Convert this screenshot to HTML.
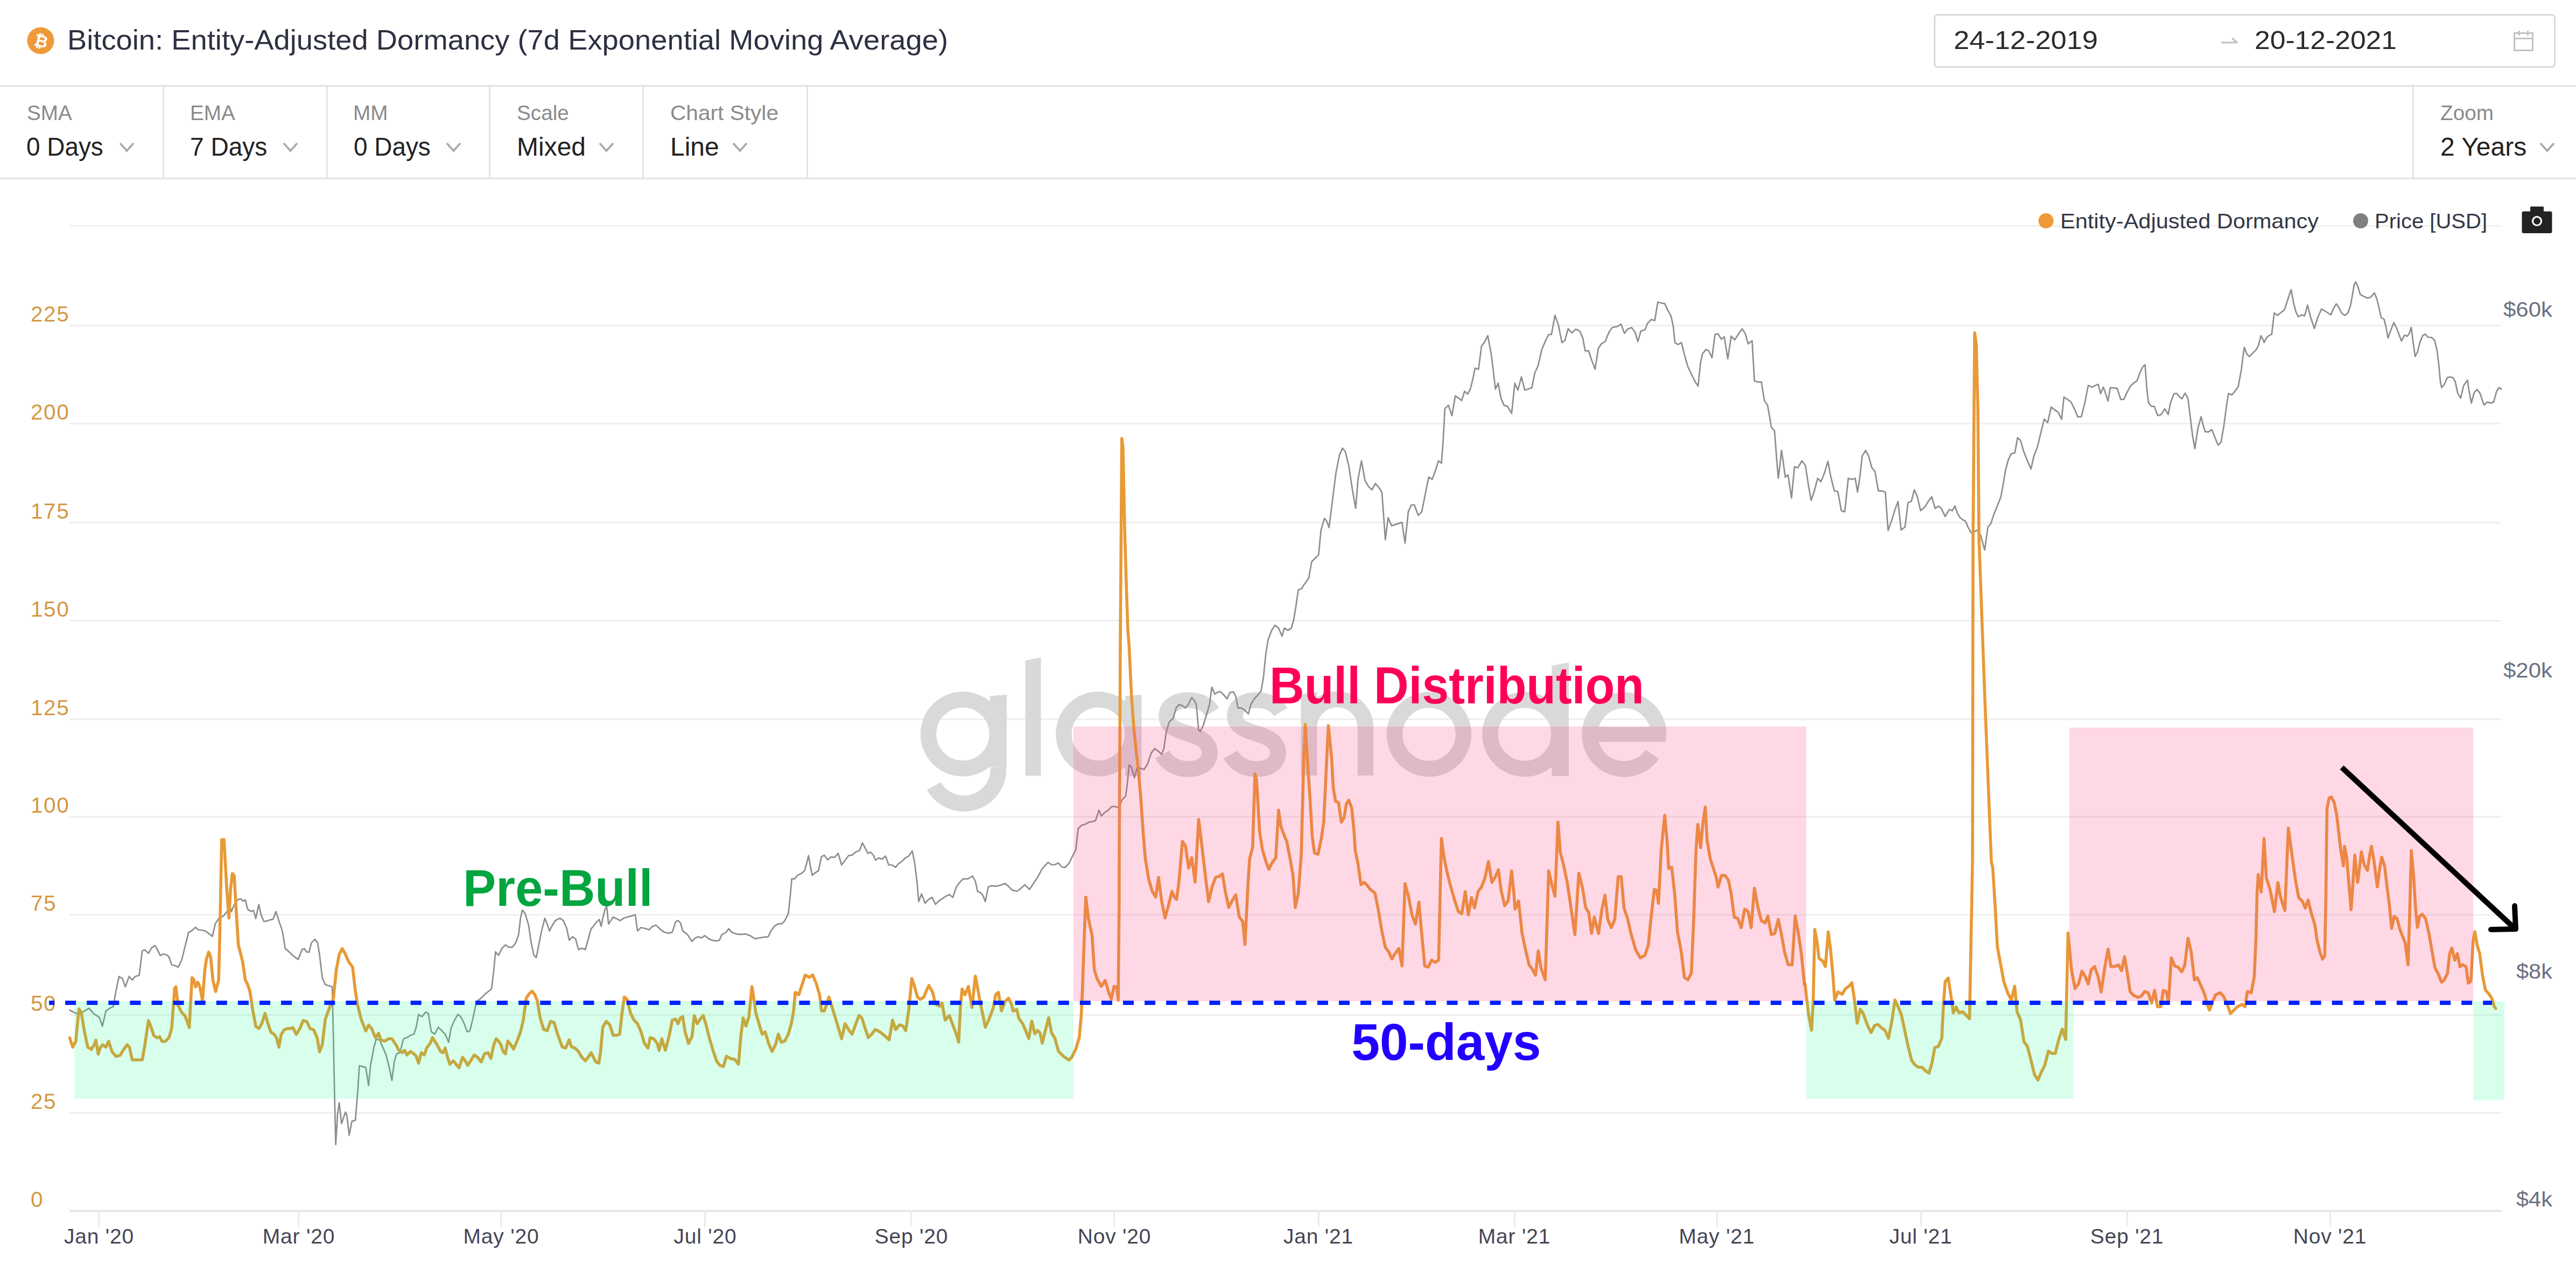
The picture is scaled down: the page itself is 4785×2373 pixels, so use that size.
<!DOCTYPE html>
<html><head><meta charset="utf-8"><title>Bitcoin: Entity-Adjusted Dormancy</title>
<style>
html,body{margin:0;padding:0;background:#fff;width:4785px;height:2373px;overflow:hidden}
svg{display:block;font-family:"Liberation Sans",sans-serif}
</style></head><body>
<svg width="4785" height="2373" viewBox="0 0 4785 2373">
<rect width="4785" height="2373" fill="#fff"/>
<!-- HEADER -->
<circle cx="75.5" cy="75.5" r="25" fill="#ef9a38"/>
<text x="76.5" y="87" font-size="31" font-weight="700" fill="#fff" text-anchor="middle" transform="rotate(14 75.5 75.5)">&#x20BF;</text>
<text id="title" x="125" y="91.5" font-size="51.5" fill="#2d3142" textLength="1636" lengthAdjust="spacingAndGlyphs">Bitcoin: Entity-Adjusted Dormancy (7d Exponential Moving Average)</text>
<rect x="3593.5" y="27.5" width="1152" height="97" rx="6" fill="#fff" stroke="#d9d9d9" stroke-width="3"/>
<text x="3629" y="91.3" font-size="49" fill="#2b2b2b" textLength="268" lengthAdjust="spacingAndGlyphs">24-12-2019</text>
<path d="M4126 79 H4156 M4146 71 L4156 79" stroke="#bfbfbf" stroke-width="3" fill="none"/>
<text x="4188" y="91.3" font-size="49" fill="#2b2b2b" textLength="264" lengthAdjust="spacingAndGlyphs">20-12-2021</text>
<g stroke="#c2c2c2" stroke-width="3" fill="none"><rect x="4670.5" y="61.5" width="34" height="32"/><path d="M4670.5 71.5 H4704.5 M4679.5 57 V66 M4695.5 57 V66"/></g>
<rect x="0" y="158" width="4785" height="3" fill="#e3e3e3"/>
<!-- toolbar -->
<g fill="#e3e3e3">
<rect x="302" y="158" width="3" height="175"/>
<rect x="606" y="158" width="3" height="175"/>
<rect x="908" y="158" width="3" height="175"/>
<rect x="1193" y="158" width="3" height="175"/>
<rect x="1498" y="158" width="3" height="175"/>
<rect x="4481" y="158" width="3" height="175"/>
<rect x="0" y="330" width="4785" height="3"/>
</g>
<g font-size="38.7" fill="#8a8a8a">
<text x="50" y="223">SMA</text>
<text x="353" y="223">EMA</text>
<text x="656" y="223">MM</text>
<text x="960" y="223">Scale</text>
<text x="1245" y="223" textLength="201" lengthAdjust="spacingAndGlyphs">Chart Style</text>
<text x="4533" y="223">Zoom</text>
</g>
<g font-size="48" fill="#222">
<text x="49" y="289" textLength="142.8" lengthAdjust="spacingAndGlyphs">0 Days</text>
<text x="353" y="289" textLength="143.3" lengthAdjust="spacingAndGlyphs">7 Days</text>
<text x="657" y="289" textLength="142.8" lengthAdjust="spacingAndGlyphs">0 Days</text>
<text x="960" y="289">Mixed</text>
<text x="1245" y="289">Line</text>
<text x="4533" y="289">2 Years</text>
</g>
<g stroke="#a8a8a8" stroke-width="3.5" fill="none">
<path d="M223 266 L235.5 280 L248 266"/>
<path d="M527 266 L539.5 280 L552 266"/>
<path d="M830 266 L842.5 280 L855 266"/>
<path d="M1114 266 L1126.5 280 L1139 266"/>
<path d="M1362 266 L1374.5 280 L1387 266"/>
<path d="M4719 266 L4731.5 280 L4744 266"/>
</g>
<!-- GRID -->
<g fill="#efefef">
<rect x="129" y="418" width="4517" height="3"/>
<rect x="129" y="603" width="4517" height="3"/>
<rect x="129" y="785" width="4517" height="3"/>
<rect x="129" y="969" width="4517" height="3"/>
<rect x="129" y="1151" width="4517" height="3"/>
<rect x="129" y="1334" width="4517" height="3"/>
<rect x="129" y="1515" width="4517" height="3"/>
<rect x="129" y="1697" width="4517" height="3"/>
<rect x="129" y="1883" width="4517" height="3"/>
<rect x="129" y="2065" width="4517" height="3"/>
</g>
<rect x="129" y="2247" width="4517" height="3" fill="#e0e0e0"/>
<g fill="#ebebeb">
<rect x="182" y="2247" width="3" height="31"/>
<rect x="553" y="2247" width="3" height="31"/>
<rect x="929" y="2247" width="3" height="31"/>
<rect x="1308" y="2247" width="3" height="31"/>
<rect x="1691" y="2247" width="3" height="31"/>
<rect x="2068" y="2247" width="3" height="31"/>
<rect x="2448" y="2247" width="3" height="31"/>
<rect x="2812" y="2247" width="3" height="31"/>
<rect x="3188" y="2247" width="3" height="31"/>
<rect x="3567" y="2247" width="3" height="31"/>
<rect x="3950" y="2247" width="3" height="31"/>
<rect x="4327" y="2247" width="3" height="31"/>
</g>
<!-- LEGEND -->
<circle cx="3800.5" cy="410" r="14" fill="#ef9a38"/>
<text x="3827" y="423.5" font-size="39" fill="#333845" textLength="480" lengthAdjust="spacingAndGlyphs">Entity-Adjusted Dormancy</text>
<circle cx="4385" cy="410" r="14" fill="#808080"/>
<text x="4411" y="423.5" font-size="39" fill="#333845" textLength="209" lengthAdjust="spacingAndGlyphs">Price [USD]</text>
<g fill="#222">
<rect x="4684.5" y="392.5" width="56" height="40.5" rx="3"/>
<rect x="4700" y="383.5" width="25" height="12" rx="1.5"/>
</g>
<circle cx="4712.5" cy="410.5" r="8" fill="none" stroke="#fff" stroke-width="3.2"/>
<!-- left axis labels -->
<g font-size="40.5" fill="#d39845" letter-spacing="1.6">
<text x="57" y="597">225</text>
<text x="57" y="779">200</text>
<text x="57" y="963">175</text>
<text x="57" y="1145">150</text>
<text x="57" y="1328">125</text>
<text x="57" y="1509">100</text>
<text x="57" y="1691">75</text>
<text x="57" y="1877">50</text>
<text x="57" y="2059">25</text>
<text x="57" y="2241">0</text>
</g>
<!-- right axis labels -->
<g font-size="39" fill="#6a6f80" text-anchor="end">
<text x="4741" y="588" textLength="91" lengthAdjust="spacingAndGlyphs">$60k</text>
<text x="4741" y="1258" textLength="91" lengthAdjust="spacingAndGlyphs">$20k</text>
<text x="4741" y="1817" textLength="67" lengthAdjust="spacingAndGlyphs">$8k</text>
<text x="4741" y="2240" textLength="67" lengthAdjust="spacingAndGlyphs">$4k</text>
</g>
<!-- x labels -->
<g font-size="39" fill="#444654" text-anchor="middle" letter-spacing="0.8">
<text x="184" y="2309">Jan '20</text>
<text x="555" y="2309">Mar '20</text>
<text x="931" y="2309">May '20</text>
<text x="1310" y="2309">Jul '20</text>
<text x="1693" y="2309">Sep '20</text>
<text x="2070" y="2309">Nov '20</text>
<text x="2449" y="2309">Jan '21</text>
<text x="2813" y="2309">Mar '21</text>
<text x="3189" y="2309">May '21</text>
<text x="3568" y="2309">Jul '21</text>
<text x="3951" y="2309">Sep '21</text>
<text x="4328" y="2309">Nov '21</text>
</g>
<!-- WATERMARK -->
<g id="wm"><g fill="none" stroke="#d9d9d9" stroke-width="29.5">
<circle cx="1788.5" cy="1363" r="64"/>
<path d="M1854.5 1424.5 A64 64 0 0 1 1734.8 1459.4"/>
<circle cx="2040" cy="1363" r="64"/>
<path d="M2252 1322 C2243 1307 2226 1300 2207 1300 C2185 1300 2167 1311 2167 1329 C2167 1350 2187 1356 2207 1362 C2229 1369 2247 1377 2247 1398 C2247 1418 2229 1428 2207 1428 C2186 1428 2168 1418 2159 1401"/>
<path d="M2252 1322 C2243 1307 2226 1300 2207 1300 C2185 1300 2167 1311 2167 1329 C2167 1350 2187 1356 2207 1362 C2229 1369 2247 1377 2247 1398 C2247 1418 2229 1428 2207 1428 C2186 1428 2168 1418 2159 1401" transform="translate(127 0)"/>
<path d="M2431.5 1440 V1351 A52.5 52.5 0 0 1 2536.5 1351 V1440"/>
<circle cx="2654.5" cy="1363.5" r="64"/>
<circle cx="2832" cy="1363.5" r="64"/>
<path d="M3081 1364 A64 64 0 1 0 3069.4 1400.7"/>
</g><g fill="#d9d9d9">
<polygon points="1839,1292.6 1870,1289.8 1870,1424.5 1839,1424.5"/>
<polygon points="1904.5,1226.4 1933.5,1220.6 1933.5,1440.5 1904.5,1440.5"/>
<polygon points="2090,1292.6 2120.5,1289.8 2120.5,1441 2090,1441"/>
<polygon points="2416.5,1289 2446.5,1285 2446.5,1440 2416.5,1440"/>
<polygon points="2882.5,1236 2914,1230 2914,1441 2882.5,1441"/>
<rect x="2962" y="1349.5" width="132.5" height="28"/>
</g></g>
<!-- LINES -->
<g id="lines" fill="none" stroke-linejoin="round" stroke-linecap="round"><path d="M129.5 1875.5 L137.2 1879.8 L146.7 1883.2 L156.6 1877.6 L165.2 1872.0 L173.8 1881.9 L184.6 1889.2 L190.2 1905.6 L196.6 1877.6 L203.9 1872.0 L210.4 1869.0 L215.6 1838.9 L221.1 1813.1 L227.6 1817.4 L232.8 1832.4 L239.7 1813.1 L245.7 1819.5 L251.3 1813.1 L258.6 1810.9 L264.2 1765.7 L268.5 1763.6 L275.8 1770.0 L281.4 1760.1 L287.9 1755.8 L292.2 1762.7 L297.8 1774.3 L302.9 1771.3 L309.4 1773.0 L313.7 1776.5 L318.9 1791.5 L324.5 1792.8 L330.9 1795.8 L337.4 1782.9 L343.8 1757.1 L350.3 1731.3 L355.9 1728.3 L363.2 1721.8 L367.5 1726.1 L373.9 1727.0 L380.4 1728.3 L386.9 1732.6 L394.6 1738.6 L399.8 1715.4 L406.2 1705.5 L414.8 1701.1 L423.4 1690.4 L426.5 1679.6 L429.9 1692.5 L434.2 1681.8 L440.7 1671.0 L447.1 1668.9 L451.4 1673.2 L455.7 1671.0 L460.0 1688.2 L466.5 1692.5 L470.8 1690.4 L475.1 1705.5 L480.7 1679.6 L485.0 1699.0 L490.2 1711.0 L496.6 1709.8 L503.1 1707.6 L507.4 1706.7 L512.5 1692.5 L518.1 1709.8 L524.6 1729.1 L529.8 1761.4 L537.5 1767.9 L544.0 1774.3 L553.9 1781.6 L561.2 1762.7 L565.5 1761.4 L569.8 1767.9 L574.1 1767.9 L578.4 1750.6 L584.9 1744.2 L590.0 1750.6 L593.5 1772.2 L598.6 1815.2 L604.2 1828.1 L610.7 1830.3 L617.1 1832.4 L619.3 1927.1 L621.4 2030.4 L623.6 2125.1 L627.0 2069.2 L630.1 2047.6 L634.4 2086.4 L641.7 2064.9 L644.3 2071.3 L648.6 2107.9 L653.7 2082.1 L660.2 2079.9 L664.5 2026.1 L667.5 1978.8 L675.2 1980.9 L679.5 1982.2 L684.7 2015.4 L688.2 1978.8 L694.6 1944.3 L698.9 1929.3 L705.4 1931.4 L717.2 1958.9 L723.7 1984.7 L728.0 2006.2 L732.3 1971.8 L736.6 1956.7 L743.0 1954.6 L749.5 1928.8 L756.0 1926.6 L762.4 1922.3 L768.9 1920.2 L773.2 1907.3 L777.5 1883.6 L783.9 1887.9 L790.4 1879.3 L795.6 1881.4 L801.1 1915.9 L807.6 1920.2 L814.1 1907.3 L820.5 1913.7 L827.0 1920.2 L833.4 1935.2 L837.7 1909.4 L844.2 1894.3 L850.6 1883.6 L855.8 1887.9 L861.4 1898.6 L867.9 1915.9 L873.0 1913.7 L878.6 1890.0 L885.1 1859.9 L893.7 1853.4 L902.3 1844.8 L913.1 1836.2 L917.4 1799.6 L920.4 1767.4 L926.0 1773.8 L932.4 1760.9 L938.9 1754.5 L945.3 1758.8 L951.8 1758.8 L958.3 1750.1 L963.4 1735.1 L966.9 1705.0 L970.3 1689.9 L975.5 1696.3 L981.9 1717.9 L986.2 1748.0 L991.8 1773.8 L996.1 1778.1 L1000.4 1756.6 L1006.5 1726.5 L1012.1 1705.0 L1016.4 1715.7 L1020.7 1728.6 L1025.0 1720.0 L1031.4 1709.3 L1040.0 1705.0 L1046.5 1709.3 L1052.9 1724.3 L1057.3 1745.8 L1063.7 1739.4 L1069.3 1743.7 L1074.5 1763.1 L1080.9 1760.9 L1087.4 1763.1 L1093.8 1739.4 L1098.1 1724.3 L1102.4 1720.0 L1106.7 1713.6 L1113.2 1707.1 L1116.6 1720.0 L1119.7 1705.0 L1124.0 1687.7 L1127.0 1683.4 L1130.4 1715.7 L1134.7 1709.3 L1139.0 1702.8 L1143.3 1705.0 L1147.6 1707.1 L1151.9 1709.3 L1158.4 1705.0 L1164.9 1702.8 L1173.5 1700.6 L1179.9 1698.5 L1184.2 1728.6 L1190.7 1722.2 L1199.3 1724.3 L1205.7 1726.5 L1212.2 1720.0 L1218.7 1717.9 L1225.1 1724.3 L1233.7 1730.8 L1242.3 1732.9 L1248.8 1730.8 L1255.2 1711.4 L1259.5 1709.3 L1263.9 1713.6 L1268.2 1728.6 L1276.8 1735.1 L1285.4 1748.0 L1291.8 1741.5 L1296.5 1739.4 L1302.9 1741.5 L1309.4 1737.2 L1315.8 1742.8 L1322.3 1745.8 L1330.9 1747.1 L1336.5 1745.8 L1340.8 1735.1 L1348.1 1731.6 L1353.7 1724.3 L1358.9 1730.8 L1367.5 1734.2 L1376.1 1735.1 L1384.7 1734.2 L1393.3 1737.2 L1401.9 1742.8 L1410.5 1741.5 L1419.1 1740.2 L1426.9 1739.4 L1432.0 1728.6 L1438.5 1720.0 L1445.0 1715.7 L1452.7 1714.9 L1457.9 1709.3 L1464.3 1696.3 L1467.3 1670.5 L1470.8 1631.8 L1475.9 1631.8 L1481.5 1625.3 L1488.0 1622.3 L1494.5 1616.7 L1498.8 1601.7 L1501.8 1588.7 L1505.2 1608.1 L1508.7 1625.3 L1513.8 1621.0 L1520.3 1616.7 L1525.9 1590.9 L1531.0 1587.9 L1537.5 1596.5 L1543.9 1590.9 L1550.4 1592.2 L1556.9 1584.4 L1563.3 1606.0 L1569.8 1597.3 L1576.2 1588.7 L1582.7 1587.9 L1589.1 1582.3 L1596.5 1579.3 L1602.1 1565.1 L1606.4 1573.7 L1612.0 1584.4 L1617.1 1582.3 L1622.3 1587.9 L1626.6 1597.3 L1632.2 1593.0 L1638.6 1595.2 L1645.1 1589.6 L1650.7 1606.0 L1656.7 1606.0 L1663.6 1610.3 L1668.8 1603.8 L1675.2 1599.5 L1681.7 1593.0 L1688.1 1589.6 L1694.6 1580.1 L1698.9 1601.7 L1703.2 1636.1 L1706.6 1674.0 L1711.8 1659.8 L1718.3 1677.0 L1724.7 1670.5 L1731.2 1666.2 L1737.6 1679.1 L1744.1 1672.7 L1750.6 1668.4 L1757.0 1664.1 L1763.5 1661.0 L1769.9 1666.2 L1776.4 1646.8 L1782.8 1638.2 L1789.3 1631.8 L1797.9 1631.8 L1806.5 1626.6 L1811.7 1636.1 L1816.0 1655.5 L1821.6 1657.6 L1825.9 1662.8 L1830.2 1674.0 L1835.8 1646.8 L1841.8 1644.7 L1849.5 1645.6 L1858.2 1643.8 L1866.8 1640.4 L1873.2 1645.6 L1879.7 1652.4 L1888.6 1655.0 L1895.1 1650.6 L1903.7 1642.9 L1912.3 1651.5 L1918.7 1642.0 L1927.3 1629.1 L1936.0 1612.8 L1946.7 1601.1 L1953.2 1605.5 L1959.6 1605.5 L1966.1 1602.4 L1972.5 1609.8 L1978.1 1611.0 L1985.5 1603.3 L1991.9 1590.4 L1998.4 1577.5 L2002.7 1538.7 L2009.1 1532.3 L2016.9 1530.1 L2022.0 1526.7 L2028.5 1525.8 L2035.0 1523.7 L2041.4 1504.3 L2045.7 1515.1 L2052.2 1508.6 L2058.6 1504.3 L2065.1 1497.6 L2071.5 1497.6 L2078.0 1499.8 L2084.5 1484.7 L2090.9 1478.3 L2093.9 1456.7 L2097.4 1420.2 L2101.7 1424.5 L2107.3 1443.8 L2112.4 1424.5 L2118.9 1426.6 L2125.3 1428.8 L2131.8 1418.0 L2138.3 1398.6 L2144.7 1390.0 L2151.2 1394.3 L2157.6 1400.8 L2161.9 1390.0 L2166.2 1359.9 L2171.8 1340.5 L2179.1 1334.1 L2184.7 1314.7 L2189.9 1308.3 L2196.4 1310.4 L2202.0 1314.7 L2207.1 1308.3 L2213.6 1295.3 L2217.9 1299.6 L2222.2 1308.3 L2226.5 1355.6 L2229.5 1357.8 L2235.1 1347.0 L2241.6 1325.5 L2246.7 1308.3 L2251.0 1276.0 L2256.6 1288.9 L2263.1 1284.6 L2267.4 1284.6 L2273.8 1291.0 L2279.4 1297.5 L2284.6 1285.9 L2291.1 1284.6 L2295.4 1293.2 L2299.7 1314.7 L2306.1 1314.7 L2312.6 1319.0 L2319.0 1325.5 L2323.3 1308.3 L2329.8 1297.5 L2336.2 1291.0 L2342.7 1282.4 L2347.0 1256.6 L2351.3 1213.6 L2355.6 1187.7 L2362.1 1170.5 L2368.5 1161.0 L2375.0 1166.2 L2381.4 1181.3 L2385.7 1166.2 L2392.2 1170.5 L2398.7 1166.2 L2403.0 1151.1 L2407.3 1125.3 L2411.6 1095.2 L2418.0 1093.0 L2421.5 1086.6 L2426.6 1080.1 L2431.8 1071.5 L2432.2 1066.6 L2436.5 1043.0 L2442.9 1036.5 L2449.4 1030.1 L2453.7 984.9 L2460.1 962.5 L2464.4 967.6 L2468.7 979.7 L2473.0 946.1 L2477.3 911.7 L2481.7 877.3 L2488.1 845.0 L2493.7 832.1 L2498.9 838.5 L2505.3 864.3 L2511.8 907.4 L2518.2 944.0 L2522.5 890.2 L2529.0 855.7 L2535.5 892.3 L2541.9 903.1 L2548.4 909.5 L2554.8 897.9 L2561.3 905.2 L2566.9 913.8 L2569.9 954.7 L2573.3 1002.1 L2578.5 961.2 L2585.0 976.2 L2591.4 974.1 L2597.9 971.9 L2604.3 969.8 L2609.9 1008.5 L2615.9 950.4 L2621.5 937.5 L2627.1 937.5 L2634.5 956.9 L2640.9 950.4 L2647.4 918.1 L2653.8 885.9 L2660.3 890.2 L2666.7 872.9 L2671.9 855.7 L2677.5 860.0 L2680.5 821.3 L2683.9 758.9 L2690.4 752.4 L2696.9 771.8 L2703.3 735.2 L2709.8 739.5 L2714.9 743.8 L2720.5 726.6 L2726.1 731.8 L2731.3 722.3 L2736.5 700.8 L2739.9 683.6 L2746.4 685.7 L2752.0 642.7 L2757.1 636.2 L2763.6 623.3 L2770.0 657.7 L2774.3 692.2 L2777.8 722.3 L2782.9 711.5 L2788.1 739.5 L2793.7 752.4 L2800.2 754.6 L2807.9 767.5 L2813.9 711.5 L2819.5 724.5 L2826.0 699.9 L2832.4 724.5 L2838.9 722.3 L2845.4 720.1 L2851.0 692.2 L2857.0 679.3 L2863.9 649.1 L2871.2 631.9 L2876.8 621.1 L2881.9 621.1 L2888.4 585.4 L2894.9 603.9 L2901.3 636.2 L2906.9 631.9 L2912.9 610.4 L2919.8 618.1 L2927.1 611.2 L2934.5 614.7 L2940.1 627.6 L2944.4 651.3 L2950.8 651.3 L2957.3 670.6 L2962.9 685.7 L2968.9 647.0 L2974.5 638.4 L2981.8 634.1 L2988.7 616.8 L2994.7 608.2 L3004.6 606.1 L3011.1 601.8 L3017.5 619.0 L3024.0 610.4 L3025.2 610.4 L3030.8 608.2 L3037.2 616.8 L3042.4 634.1 L3048.0 614.7 L3055.3 612.5 L3060.9 599.6 L3067.3 593.2 L3073.8 595.3 L3079.4 560.9 L3084.6 562.2 L3092.3 563.9 L3097.5 575.1 L3103.9 586.7 L3108.2 606.1 L3111.2 636.2 L3116.8 639.7 L3123.3 636.2 L3129.8 662.0 L3135.4 681.4 L3142.7 696.5 L3149.1 709.4 L3154.3 717.1 L3158.6 675.0 L3162.0 657.7 L3168.5 649.1 L3174.1 651.3 L3180.1 664.2 L3185.7 621.1 L3191.3 619.9 L3197.3 629.8 L3202.9 625.5 L3209.4 666.3 L3215.8 624.2 L3222.3 631.0 L3228.8 621.1 L3236.1 610.4 L3241.7 619.0 L3247.3 638.4 L3254.6 632.8 L3258.9 707.2 L3265.3 709.4 L3271.8 709.4 L3277.4 743.8 L3283.4 752.4 L3290.3 793.3 L3296.3 799.8 L3299.8 847.1 L3303.2 888.0 L3306.2 864.3 L3309.2 836.4 L3312.7 860.0 L3316.1 885.9 L3321.3 881.6 L3327.8 924.6 L3333.3 866.5 L3339.4 868.6 L3347.1 855.7 L3353.6 864.3 L3359.2 900.9 L3364.3 928.9 L3370.8 909.5 L3376.4 888.0 L3382.4 894.5 L3389.3 877.3 L3395.3 856.6 L3400.9 885.9 L3407.4 911.7 L3413.8 912.5 L3420.3 948.3 L3426.7 950.4 L3433.2 888.0 L3439.7 890.2 L3446.1 888.0 L3450.4 913.8 L3454.7 885.9 L3459.0 847.1 L3465.5 836.4 L3471.1 847.1 L3477.1 868.6 L3482.7 875.1 L3489.2 911.7 L3496.9 911.7 L3502.1 913.8 L3507.2 984.9 L3514.1 965.5 L3519.3 948.3 L3525.7 931.1 L3531.3 984.0 L3538.7 978.4 L3544.3 933.2 L3550.3 931.1 L3555.9 909.5 L3561.5 922.4 L3567.5 948.3 L3575.2 941.8 L3581.7 931.1 L3588.2 922.4 L3594.6 944.0 L3601.1 939.7 L3606.2 944.0 L3613.1 959.0 L3620.8 946.1 L3626.4 948.3 L3631.5 939.7 L3635.8 952.6 L3641.0 961.2 L3646.6 965.5 L3650.9 967.6 L3656.5 980.6 L3661.7 989.2 L3668.1 987.0 L3673.7 984.0 L3678.9 993.5 L3686.6 1021.4 L3692.6 978.4 L3698.2 971.9 L3703.8 954.7 L3709.9 939.7 L3716.7 922.4 L3721.0 898.8 L3725.4 872.9 L3730.5 853.6 L3735.7 842.8 L3742.6 840.7 L3747.7 812.7 L3752.9 817.0 L3758.5 836.4 L3765.0 853.6 L3772.7 870.8 L3777.9 847.1 L3784.3 830.8 L3790.8 804.1 L3797.2 778.3 L3803.7 784.7 L3810.1 755.9 L3816.6 761.0 L3823.1 765.3 L3829.5 778.3 L3833.8 737.4 L3840.3 741.7 L3846.7 746.0 L3853.2 758.9 L3859.6 773.9 L3866.1 773.9 L3872.6 748.1 L3879.0 715.8 L3886.3 718.9 L3891.9 715.8 L3897.5 713.7 L3901.8 730.9 L3907.0 718.9 L3911.3 730.9 L3915.6 744.7 L3919.9 720.1 L3926.4 720.1 L3932.8 721.4 L3939.3 741.7 L3944.9 741.7 L3950.0 730.9 L3956.5 718.0 L3962.9 711.5 L3969.4 707.2 L3975.0 692.2 L3980.2 681.4 L3984.5 677.1 L3987.9 722.3 L3990.9 748.1 L3996.5 754.6 L4001.7 754.6 L4008.1 771.8 L4014.6 769.6 L4021.1 758.9 L4027.5 769.6 L4031.8 748.1 L4038.3 730.9 L4043.9 730.9 L4049.0 737.4 L4053.3 740.4 L4058.5 730.0 L4064.1 739.5 L4068.4 773.9 L4072.7 808.4 L4077.0 833.3 L4082.6 795.5 L4088.6 773.9 L4092.9 791.2 L4096.4 801.9 L4102.8 801.9 L4108.4 797.6 L4114.5 812.7 L4120.1 826.5 L4125.6 821.3 L4130.8 791.2 L4136.0 752.4 L4139.4 730.9 L4145.9 733.1 L4151.5 726.6 L4157.5 718.0 L4163.1 687.9 L4168.7 644.8 L4173.9 657.7 L4178.2 662.0 L4184.6 655.6 L4191.1 649.1 L4195.4 640.5 L4199.7 623.3 L4204.8 632.8 L4205.4 636.1 L4210.8 626.0 L4216.2 622.4 L4219.8 620.6 L4224.5 581.0 L4230.6 585.7 L4236.0 581.0 L4243.2 575.6 L4250.4 554.0 L4255.8 537.8 L4260.5 563.0 L4264.8 579.2 L4269.1 588.2 L4275.6 584.6 L4281.0 586.4 L4286.4 566.6 L4291.8 588.2 L4299.0 609.8 L4305.1 590.0 L4312.3 573.8 L4318.8 577.4 L4324.2 581.0 L4329.6 584.6 L4335.0 572.0 L4339.7 564.1 L4344.0 570.2 L4349.4 581.0 L4355.5 585.7 L4361.3 581.0 L4366.3 566.6 L4369.9 546.8 L4372.8 528.8 L4375.7 523.4 L4380.0 532.4 L4384.3 546.8 L4390.8 550.4 L4397.3 553.3 L4403.4 552.2 L4410.6 543.9 L4415.3 555.8 L4419.6 573.8 L4423.2 590.0 L4428.6 592.9 L4432.2 608.0 L4435.8 627.8 L4440.5 614.5 L4446.6 599.0 L4452.0 609.8 L4457.4 624.2 L4461.0 633.2 L4466.4 622.4 L4471.8 624.2 L4475.4 618.8 L4479.0 608.0 L4482.6 636.8 L4486.2 662.0 L4490.9 653.0 L4495.2 635.0 L4500.6 622.4 L4505.3 620.6 L4509.6 626.0 L4516.8 626.7 L4522.2 631.4 L4526.9 651.2 L4530.5 680.0 L4533.0 708.8 L4535.5 719.6 L4540.2 714.2 L4545.6 701.6 L4551.0 699.8 L4557.1 701.6 L4560.7 708.8 L4565.4 730.4 L4570.8 739.4 L4576.2 716.0 L4583.4 705.9 L4585.9 723.2 L4590.6 748.4 L4596.0 728.6 L4601.4 723.2 L4606.8 730.4 L4614.0 752.0 L4620.4 746.6 L4626.6 748.4 L4632.0 746.6 L4637.4 726.8 L4642.0 719.6 L4646.4 722.5" stroke="#8d8d8d" stroke-width="2.7"/><path d="M129.5 1927.1 L135.1 1944.3 L140.7 1933.6 L146.7 1873.3 L151.0 1879.8 L156.6 1914.2 L163.0 1944.3 L169.5 1948.6 L175.1 1940.0 L178.1 1931.4 L182.4 1957.3 L186.7 1944.3 L191.0 1940.0 L196.6 1944.3 L201.8 1933.6 L208.2 1952.9 L215.6 1961.6 L223.3 1959.4 L229.8 1948.6 L236.2 1940.0 L240.5 1944.3 L245.7 1968.0 L253.4 1968.0 L264.2 1968.0 L268.5 1944.3 L275.8 1894.8 L280.1 1905.6 L285.7 1922.8 L292.2 1927.1 L296.5 1925.0 L300.8 1933.6 L307.2 1933.6 L313.7 1927.1 L318.9 1909.9 L324.5 1834.6 L326.6 1832.4 L330.9 1866.9 L337.4 1879.8 L343.8 1886.2 L351.6 1907.8 L356.7 1815.2 L360.2 1819.5 L363.2 1832.4 L367.5 1823.8 L371.8 1834.6 L376.1 1858.3 L380.4 1802.3 L383.4 1780.8 L387.7 1767.9 L391.2 1776.5 L395.5 1819.5 L400.6 1841.0 L406.2 1819.5 L408.4 1729.1 L411.8 1559.1 L416.1 1559.1 L421.3 1651.7 L425.2 1704.6 L428.2 1651.7 L431.6 1622.0 L435.1 1625.8 L438.5 1686.1 L442.8 1755.0 L450.6 1785.1 L455.7 1819.5 L460.0 1828.1 L464.3 1841.0 L469.5 1875.5 L475.1 1905.6 L480.7 1909.9 L485.9 1901.3 L492.3 1881.9 L496.6 1897.0 L503.1 1916.4 L509.5 1920.7 L513.8 1927.1 L518.1 1944.3 L522.4 1920.7 L528.0 1912.1 L534.1 1909.9 L539.7 1909.9 L544.0 1907.8 L550.4 1920.7 L556.9 1909.9 L563.3 1894.8 L569.8 1897.0 L576.2 1909.9 L582.7 1912.1 L589.2 1927.1 L593.5 1952.9 L598.6 1940.0 L604.2 1892.7 L612.8 1869.0 L619.3 1853.9 L624.5 1802.3 L630.1 1772.2 L635.6 1761.4 L640.8 1770.0 L647.3 1785.1 L655.0 1795.8 L660.2 1841.0 L664.5 1866.9 L670.9 1892.7 L679.5 1914.2 L684.7 1903.4 L690.3 1909.9 L697.6 1927.1 L703.2 1918.5 L707.5 1931.4 L715.1 1933.1 L721.5 1928.8 L728.0 1928.8 L732.3 1935.2 L736.6 1941.7 L740.9 1950.3 L747.3 1954.6 L751.7 1950.3 L756.0 1958.9 L762.4 1952.4 L768.9 1956.7 L773.2 1961.1 L777.5 1974.0 L782.6 1954.6 L788.2 1958.9 L792.5 1946.0 L799.0 1937.4 L803.3 1926.6 L807.6 1933.1 L812.8 1941.7 L818.4 1952.4 L822.7 1954.6 L827.0 1946.0 L831.3 1963.2 L835.6 1976.1 L842.0 1969.7 L847.2 1976.1 L852.8 1982.6 L859.3 1963.2 L864.4 1969.7 L868.7 1978.3 L874.3 1969.7 L880.8 1958.9 L887.2 1963.2 L893.7 1971.8 L900.1 1956.7 L906.6 1954.6 L911.8 1965.4 L917.4 1939.5 L921.7 1928.8 L926.0 1933.1 L930.3 1939.5 L934.6 1952.4 L938.9 1956.7 L943.2 1933.1 L948.8 1939.5 L953.9 1948.1 L960.4 1933.1 L966.9 1915.9 L972.0 1894.3 L977.6 1853.4 L983.2 1844.8 L988.4 1840.5 L993.5 1847.0 L997.9 1857.8 L1003.4 1890.0 L1009.9 1911.6 L1016.4 1913.7 L1022.8 1896.5 L1029.3 1898.6 L1035.7 1920.2 L1044.3 1943.8 L1050.8 1946.0 L1057.3 1930.9 L1061.6 1943.8 L1068.0 1946.0 L1074.5 1952.4 L1080.9 1963.2 L1087.4 1969.7 L1092.5 1963.2 L1098.1 1954.6 L1102.4 1963.2 L1106.7 1971.8 L1112.3 1974.0 L1115.4 1954.6 L1119.7 1907.3 L1126.1 1896.5 L1132.6 1902.9 L1139.0 1922.3 L1145.5 1922.3 L1151.1 1920.2 L1155.4 1881.4 L1159.7 1851.3 L1164.9 1855.6 L1171.3 1881.4 L1177.8 1894.3 L1184.2 1900.8 L1190.7 1915.9 L1197.1 1937.4 L1203.6 1946.0 L1207.9 1926.6 L1214.4 1928.8 L1220.8 1937.4 L1224.3 1950.3 L1229.4 1928.8 L1235.9 1950.3 L1242.3 1926.6 L1248.8 1894.3 L1255.2 1892.2 L1259.5 1900.8 L1263.9 1890.0 L1268.2 1887.9 L1272.5 1915.9 L1278.9 1937.4 L1285.4 1924.5 L1289.7 1885.7 L1295.2 1900.8 L1300.8 1892.2 L1306.4 1885.7 L1311.5 1902.9 L1318.0 1928.8 L1324.4 1950.3 L1330.9 1969.7 L1337.3 1978.3 L1343.8 1980.4 L1349.4 1961.1 L1356.7 1965.4 L1365.3 1967.5 L1371.8 1976.1 L1376.1 1924.5 L1380.4 1890.0 L1385.6 1905.1 L1391.1 1887.9 L1396.7 1831.9 L1399.8 1851.3 L1404.1 1881.4 L1410.5 1902.9 L1415.7 1920.2 L1421.3 1915.9 L1427.7 1937.4 L1434.2 1952.4 L1440.6 1939.5 L1445.8 1920.2 L1451.4 1935.2 L1457.9 1933.1 L1464.3 1920.2 L1469.9 1900.8 L1474.2 1877.1 L1477.2 1842.7 L1483.7 1847.0 L1488.0 1834.1 L1495.7 1810.4 L1503.1 1814.7 L1509.5 1810.4 L1516.0 1825.5 L1522.4 1847.0 L1525.9 1877.1 L1531.0 1877.1 L1535.3 1866.4 L1539.6 1851.3 L1543.9 1864.2 L1550.4 1885.7 L1556.9 1907.3 L1563.3 1928.8 L1569.8 1900.8 L1577.5 1913.7 L1582.7 1920.2 L1589.1 1902.9 L1595.6 1885.7 L1600.8 1890.0 L1606.4 1907.3 L1612.8 1926.6 L1619.3 1920.2 L1625.7 1911.6 L1634.3 1915.9 L1645.1 1924.5 L1651.6 1930.9 L1658.0 1894.3 L1663.6 1911.6 L1670.9 1902.9 L1677.4 1905.1 L1682.5 1913.7 L1688.1 1875.0 L1693.7 1816.9 L1698.9 1831.9 L1704.1 1851.3 L1709.7 1855.6 L1716.1 1851.3 L1721.3 1838.4 L1725.6 1829.8 L1732.5 1842.7 L1737.6 1864.2 L1745.4 1868.5 L1749.7 1862.1 L1755.7 1894.3 L1763.5 1885.7 L1769.9 1902.9 L1776.4 1920.2 L1780.7 1935.2 L1784.1 1870.7 L1787.1 1836.2 L1792.7 1847.0 L1798.8 1831.9 L1802.2 1851.3 L1805.6 1870.7 L1811.7 1812.6 L1816.0 1834.1 L1820.3 1859.9 L1825.9 1885.7 L1830.2 1907.3 L1836.6 1894.3 L1845.2 1870.7 L1849.5 1847.0 L1854.7 1842.7 L1860.3 1877.1 L1866.8 1859.9 L1873.2 1853.4 L1878.8 1864.2 L1881.8 1877.1 L1888.6 1874.5 L1892.9 1891.7 L1899.4 1900.3 L1905.0 1913.2 L1911.0 1928.3 L1916.6 1896.0 L1922.2 1919.7 L1927.3 1913.2 L1931.7 1917.5 L1936.0 1936.9 L1942.4 1911.1 L1948.0 1889.5 L1953.2 1917.5 L1959.6 1928.3 L1966.1 1951.9 L1974.7 1960.6 L1985.5 1968.3 L1991.0 1962.7 L1998.4 1947.6 L2004.8 1926.1 L2008.3 1887.4 L2010.4 1844.3 L2013.4 1758.3 L2016.9 1665.7 L2022.0 1706.6 L2028.5 1736.7 L2032.8 1801.3 L2038.4 1818.5 L2045.7 1831.4 L2053.0 1820.7 L2058.6 1840.0 L2064.2 1855.1 L2069.4 1831.4 L2074.6 1833.6 L2077.1 1857.3 L2078.9 1672.2 L2079.0 1600.0 L2081.0 1200.0 L2083.8 814.0 L2086.0 830.0 L2089.0 980.0 L2092.6 1100.0 L2095.0 1170.0 L2097.4 1200.0 L2101.7 1291.0 L2106.0 1351.0 L2110.3 1394.0 L2114.6 1429.0 L2118.9 1480.0 L2123.2 1543.0 L2127.5 1594.7 L2133.9 1633.4 L2140.4 1655.0 L2146.9 1665.7 L2152.0 1629.1 L2157.6 1672.2 L2164.1 1704.5 L2170.5 1680.8 L2177.0 1655.0 L2181.3 1665.7 L2185.6 1670.0 L2189.9 1637.7 L2196.4 1562.4 L2202.0 1571.0 L2208.0 1611.9 L2213.6 1592.5 L2220.0 1637.7 L2226.5 1521.5 L2230.8 1556.0 L2237.3 1611.9 L2245.0 1674.3 L2251.0 1648.5 L2257.9 1629.1 L2265.2 1627.0 L2270.8 1622.7 L2276.0 1655.0 L2282.4 1685.1 L2288.9 1672.2 L2295.4 1661.4 L2301.8 1702.3 L2308.3 1710.9 L2312.6 1753.9 L2318.2 1642.0 L2321.2 1594.7 L2326.8 1573.2 L2331.1 1437.2 L2334.1 1448.3 L2339.7 1543.0 L2344.9 1577.5 L2351.3 1599.0 L2356.9 1614.1 L2362.1 1603.3 L2369.8 1592.5 L2375.0 1504.3 L2379.3 1534.4 L2385.7 1551.7 L2390.1 1562.4 L2396.5 1594.7 L2401.7 1624.8 L2406.0 1685.1 L2411.6 1659.3 L2417.2 1586.1 L2421.5 1413.9 L2424.5 1345.0 L2428.8 1413.9 L2433.1 1478.5 L2437.4 1551.7 L2441.7 1583.9 L2448.2 1586.1 L2454.6 1556.0 L2458.9 1525.8 L2463.2 1435.4 L2467.5 1347.2 L2473.4 1406.1 L2476.5 1462.0 L2480.8 1487.9 L2486.4 1490.0 L2491.5 1526.6 L2496.7 1518.0 L2501.0 1492.2 L2505.3 1485.7 L2510.9 1500.8 L2515.2 1543.8 L2517.3 1578.3 L2522.5 1604.1 L2528.1 1642.8 L2533.7 1638.5 L2538.9 1642.8 L2545.3 1651.4 L2553.9 1657.9 L2560.4 1690.2 L2566.8 1728.9 L2573.3 1759.0 L2579.8 1767.6 L2585.4 1780.6 L2590.5 1771.9 L2598.3 1761.2 L2604.3 1793.5 L2609.9 1640.7 L2616.3 1664.3 L2622.8 1698.8 L2629.3 1716.0 L2635.7 1675.1 L2640.0 1724.6 L2646.5 1793.5 L2652.9 1795.6 L2659.4 1782.7 L2665.8 1787.0 L2672.3 1782.7 L2677.5 1556.7 L2681.8 1589.0 L2687.4 1617.0 L2693.8 1642.8 L2702.4 1672.9 L2708.9 1692.3 L2715.3 1696.6 L2721.8 1655.7 L2727.4 1698.8 L2733.4 1666.5 L2739.0 1685.9 L2745.5 1655.7 L2751.9 1647.1 L2758.4 1629.9 L2764.8 1599.8 L2771.3 1638.5 L2777.8 1627.8 L2783.3 1614.8 L2788.5 1653.6 L2795.0 1681.6 L2801.4 1672.9 L2807.9 1617.0 L2812.2 1660.0 L2814.3 1688.0 L2820.8 1672.9 L2827.3 1733.2 L2833.7 1763.3 L2840.2 1791.3 L2846.6 1799.9 L2852.2 1810.7 L2857.4 1765.5 L2862.5 1797.8 L2870.3 1819.3 L2876.7 1617.0 L2883.2 1645.0 L2888.4 1664.3 L2894.0 1526.6 L2898.3 1582.6 L2903.9 1604.1 L2911.2 1638.5 L2917.6 1681.6 L2925.4 1735.4 L2932.7 1621.3 L2939.2 1647.1 L2945.6 1685.9 L2951.2 1694.5 L2956.4 1733.2 L2961.5 1703.1 L2969.3 1733.2 L2975.7 1688.0 L2981.3 1662.2 L2986.5 1707.4 L2993.0 1722.4 L2999.4 1707.4 L3005.9 1627.8 L3011.5 1627.8 L3016.6 1685.9 L3023.1 1705.2 L3029.5 1733.2 L3038.2 1763.3 L3046.8 1778.4 L3055.4 1774.1 L3061.8 1754.7 L3066.5 1707.4 L3072.9 1651.4 L3077.2 1653.6 L3080.7 1677.3 L3085.8 1578.3 L3092.3 1513.7 L3096.6 1561.0 L3099.6 1612.7 L3105.2 1610.5 L3110.8 1660.0 L3116.0 1731.1 L3122.4 1763.3 L3128.9 1815.0 L3135.3 1819.3 L3141.8 1806.4 L3146.1 1707.4 L3150.4 1578.3 L3153.8 1530.9 L3159.0 1573.9 L3163.3 1526.6 L3167.6 1498.6 L3171.0 1561.0 L3177.1 1595.5 L3182.7 1612.7 L3188.3 1629.9 L3191.3 1647.1 L3197.7 1625.6 L3204.2 1625.6 L3210.6 1634.2 L3215.8 1660.0 L3221.4 1703.1 L3227.9 1705.2 L3234.3 1722.4 L3240.8 1688.0 L3247.2 1692.3 L3252.8 1722.4 L3258.9 1649.3 L3265.7 1685.9 L3271.8 1709.5 L3278.7 1713.8 L3283.8 1700.9 L3290.3 1735.4 L3296.7 1733.2 L3303.2 1707.4 L3308.8 1733.2 L3314.8 1767.6 L3321.7 1791.3 L3329.0 1791.3 L3334.6 1700.9 L3339.8 1728.9 L3346.2 1771.9 L3351.8 1827.9 L3352.9 1826.9 L3359.4 1882.8 L3365.0 1912.9 L3368.0 1861.3 L3371.0 1725.7 L3375.3 1749.4 L3378.7 1779.5 L3385.2 1783.8 L3390.8 1794.6 L3396.0 1730.0 L3400.3 1762.3 L3404.6 1809.6 L3408.0 1857.0 L3414.0 1841.9 L3421.8 1846.2 L3428.2 1835.5 L3434.7 1831.2 L3439.9 1824.7 L3444.2 1852.7 L3449.8 1900.0 L3455.4 1874.2 L3460.5 1880.7 L3469.1 1904.3 L3475.6 1917.3 L3482.0 1904.3 L3488.5 1902.2 L3495.0 1908.6 L3501.4 1912.9 L3507.9 1928.0 L3514.3 1895.7 L3519.9 1857.0 L3525.1 1867.8 L3531.5 1882.8 L3538.0 1912.9 L3544.5 1943.1 L3550.9 1968.9 L3557.4 1977.5 L3563.8 1981.8 L3570.3 1981.8 L3576.7 1988.3 L3583.2 1992.6 L3588.8 1973.2 L3593.9 1945.2 L3600.4 1943.1 L3606.9 1928.0 L3610.3 1861.3 L3613.3 1822.6 L3618.9 1816.1 L3623.2 1844.1 L3628.4 1880.7 L3633.5 1869.9 L3639.1 1880.7 L3645.6 1878.5 L3652.1 1885.0 L3658.5 1891.4 L3664.0 1600.0 L3665.0 1000.0 L3668.0 618.0 L3671.0 640.0 L3674.0 760.0 L3676.0 1000.0 L3687.0 1300.0 L3699.0 1600.0 L3701.6 1611.6 L3705.9 1680.5 L3710.2 1758.0 L3716.6 1792.4 L3722.2 1822.6 L3729.5 1844.1 L3736.0 1857.0 L3742.4 1831.2 L3746.7 1878.5 L3753.2 1893.6 L3759.7 1934.5 L3766.1 1943.1 L3772.6 1968.9 L3779.0 1994.7 L3785.5 2005.5 L3791.9 1990.4 L3798.4 1977.5 L3804.9 1951.7 L3811.3 1956.0 L3817.8 1956.0 L3824.2 1930.2 L3830.7 1910.8 L3837.1 1930.2 L3841.4 1732.2 L3847.9 1801.0 L3854.4 1835.5 L3860.8 1826.9 L3867.3 1803.2 L3873.7 1813.9 L3878.9 1826.9 L3884.5 1801.0 L3890.9 1794.6 L3897.4 1813.9 L3903.0 1841.9 L3910.3 1792.4 L3915.9 1762.3 L3921.1 1794.6 L3927.5 1794.6 L3934.0 1792.4 L3935.2 1791.7 L3940.8 1802.4 L3946.4 1776.6 L3951.5 1806.7 L3956.7 1841.2 L3962.3 1847.6 L3970.9 1851.9 L3977.3 1849.8 L3983.8 1841.2 L3990.3 1843.3 L3996.7 1862.7 L4002.3 1839.0 L4007.5 1869.2 L4013.9 1869.2 L4018.2 1839.0 L4023.8 1841.2 L4028.1 1860.6 L4033.3 1778.8 L4039.8 1793.8 L4046.2 1796.0 L4052.7 1804.6 L4058.3 1791.7 L4064.3 1742.2 L4069.9 1765.9 L4076.3 1819.7 L4081.5 1815.4 L4088.4 1830.4 L4095.7 1847.6 L4100.0 1864.9 L4104.3 1875.6 L4109.9 1860.6 L4115.1 1847.6 L4123.7 1843.3 L4130.1 1849.8 L4136.6 1862.7 L4143.1 1882.1 L4149.5 1875.6 L4156.0 1869.2 L4164.6 1864.9 L4170.2 1869.2 L4174.5 1841.2 L4181.8 1843.3 L4187.4 1813.2 L4190.4 1744.3 L4192.6 1658.3 L4194.7 1623.8 L4200.3 1656.1 L4205.5 1557.1 L4209.8 1630.3 L4216.2 1649.6 L4224.8 1692.7 L4231.3 1638.9 L4236.5 1666.9 L4244.2 1690.5 L4250.7 1537.7 L4257.1 1585.1 L4263.6 1632.4 L4270.0 1666.9 L4276.5 1673.3 L4282.1 1686.2 L4287.3 1671.2 L4293.7 1697.0 L4300.0 1717.8 L4304.1 1746.3 L4310.2 1770.7 L4314.2 1780.9 L4318.3 1774.8 L4320.4 1664.9 L4322.4 1502.1 L4326.5 1481.8 L4330.5 1479.7 L4335.8 1489.9 L4340.7 1514.3 L4344.8 1550.9 L4348.8 1583.5 L4352.9 1607.9 L4354.9 1571.3 L4359.0 1591.6 L4363.1 1640.5 L4367.2 1689.3 L4371.2 1632.3 L4374.1 1587.6 L4379.4 1638.4 L4383.4 1607.9 L4386.3 1581.5 L4391.6 1605.9 L4397.7 1616.1 L4401.8 1587.6 L4405.0 1571.3 L4409.9 1599.8 L4416.0 1646.6 L4420.1 1614.0 L4424.1 1591.6 L4429.4 1607.9 L4434.3 1648.6 L4438.4 1681.2 L4442.5 1723.9 L4447.3 1701.5 L4452.6 1705.6 L4457.9 1726.0 L4462.8 1738.2 L4467.7 1750.4 L4473.0 1791.1 L4475.8 1705.6 L4479.1 1579.4 L4483.2 1624.2 L4487.2 1689.3 L4490.5 1721.9 L4494.5 1701.5 L4499.4 1697.5 L4505.5 1705.6 L4511.6 1732.1 L4517.7 1766.7 L4523.0 1797.2 L4528.7 1807.4 L4535.2 1823.6 L4540.1 1819.6 L4546.2 1807.4 L4550.3 1770.7 L4554.4 1760.5 L4559.7 1782.9 L4564.6 1770.7 L4569.4 1795.1 L4574.7 1791.1 L4580.8 1795.1 L4584.9 1825.7 L4589.8 1821.6 L4593.9 1746.3 L4597.1 1730.0 L4601.2 1754.4 L4606.1 1770.7 L4611.4 1811.4 L4616.6 1837.9 L4623.6 1846.0 L4628.9 1854.2 L4632.9 1868.4 L4635.8 1872.5" stroke="#e89a36" stroke-width="5.6"/></g>
<!-- OVERLAYS -->
<g>
<rect x="1994" y="1349" width="1361" height="510" fill="rgba(255,60,130,0.2)"/>
<rect x="3844" y="1351" width="750" height="508" fill="rgba(255,60,130,0.2)"/>
<rect x="138" y="1859" width="1856" height="181" fill="rgba(0,255,131,0.153)"/>
<rect x="3355" y="1859" width="496" height="181" fill="rgba(0,255,131,0.153)"/>
<rect x="4594" y="1859" width="58" height="184" fill="rgba(0,255,131,0.153)"/>
</g>
<line x1="91" y1="1862" x2="4629" y2="1862" stroke="#0022ff" stroke-width="8" stroke-dasharray="20 20.1" stroke-dashoffset="10"/>
<!-- ANNOTATIONS -->
<text x="860" y="1682" font-size="95.5" font-weight="700" fill="#02a53f" textLength="352.6" lengthAdjust="spacingAndGlyphs">Pre-Bull</text>
<text x="2358" y="1306" font-size="96.5" font-weight="700" fill="#ff0058" textLength="696" lengthAdjust="spacingAndGlyphs">Bull Distribution</text>
<text x="2510.5" y="1967.6" font-size="95.5" font-weight="700" fill="#2200ff" textLength="352" lengthAdjust="spacingAndGlyphs">50-days</text>
<g stroke="#000" stroke-width="10" fill="none" stroke-linejoin="round">
<path d="M4350 1425 L4668 1721"/>
<path d="M4627 1726 L4673 1725 L4671 1682" stroke-linecap="round"/>
</g>
</svg>
</body></html>
